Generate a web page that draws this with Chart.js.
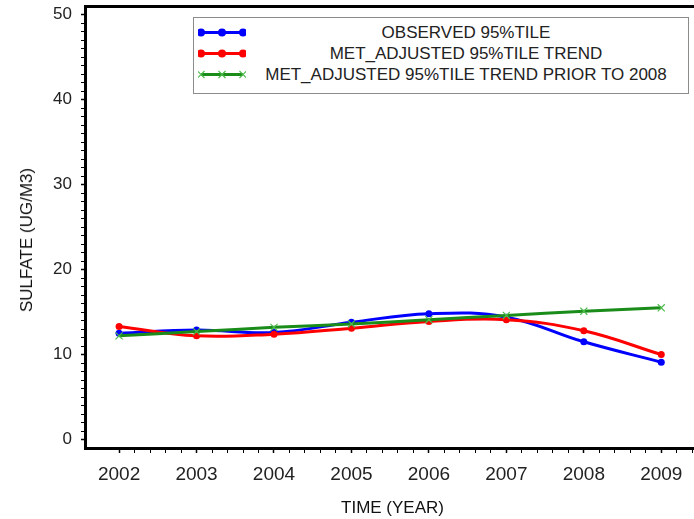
<!DOCTYPE html>
<html lang="en">
<head>
<meta charset="UTF-8">
<title>Sulfate 95%tile trend</title>
<script src="https://cdn.jsdelivr.net/npm/chart.js"></script>
<style>
    body { margin: 0; background: #fff; overflow: hidden; font-family: "Liberation Sans", Arial, sans-serif; }
    #wrap { position: relative; width: 710px; height: 519px; }
    #legend {
        position: absolute; left: 193px; top: 17px; width: 494px; height: 75px;
        border: 1px solid #8c8c8c; background: #fff;
    }
    .row { position: absolute; left: 0; width: 100%; height: 21px; }
    .row svg { position: absolute; left: 4px; top: 0; }
    .row span {
        position: absolute; left: 50px; right: 0; text-align: center;
        font-size: 17px; line-height: 21px; color: #222; white-space: nowrap;
    }
    #ytitle {
        position: absolute; left: 27px; top: 240px; width: 0; height: 0;
    }
    #ytitle span {
        position: absolute; left: 0; top: 0; white-space: nowrap;
        transform: translate(-50%, -50%) rotate(-90deg);
        font-size: 17px; line-height: 20px; color: #111;
    }
</style>
</head>
<body>
<div id="wrap">
    <canvas id="sulfateChart"></canvas>
    <div id="legend"></div>
    <div id="ytitle"><span>SULFATE (UG/M3)</span></div>
</div>

<script>
    // valores
    const years = [2002, 2003, 2004, 2005, 2006, 2007, 2008, 2009];
    const observed = [12.5, 12.9, 12.6, 13.8, 14.8, 14.4, 11.5, 9.1];
    const metAdjusted = [13.3, 12.2, 12.4, 13.1, 13.9, 14.1, 12.8, 10.0];
    const metAdjustedPrior2008 = [12.2, 12.7, 13.2, 13.6, 14.1, 14.6, 15.1, 15.5];
    const xTickLabels = ['2002', '2003', '2004', '2005', '2006', '2007', '2008', '2009'];
    const yTickLabels = ['0', '10', '20', '30', '40', '50'];
    const seriesNames = [
        'OBSERVED 95%TILE',
        'MET_ADJUSTED 95%TILE TREND',
        'MET_ADJUSTED 95%TILE TREND PRIOR TO 2008'
    ];

    const BLUE = '#0000ff';
    const RED = '#ff0000';
    const GREEN = '#1a8c1a';
    const GREEN_MARK = '#4cbb4c';
    const FONT = '"Liberation Sans", Arial, sans-serif';

    const xMin = 2001.56, xMax = 2009.5;
    const yMin = -1, yMax = 51;

    function toPoints(values) {
        return years.map((yr, i) => ({ x: yr, y: values[i] }));
    }

    // ticks menores: 5 divisões por ano no x, 1 unidade no y
    function xTicks(scale) {
        const t = [];
        for (let i = 0; i <= 37; i++) t.push({ value: Math.round((2002 + i / 5) * 10) / 10 });
        scale.ticks = t;
    }
    function yTicks(scale) {
        const t = [];
        for (let v = 0; v <= 50; v++) t.push({ value: v });
        scale.ticks = t;
    }

    // sem folga extra para rótulos nas pontas
    function noPadding(scale) {
        scale.paddingTop = 0;
        scale.paddingBottom = 0;
        scale.paddingLeft = 0;
        scale.paddingRight = 0;
    }

    // legenda em HTML
    const legend = document.getElementById('legend');
    const samples = [
        { color: BLUE, mark: 'dot' },
        { color: RED, mark: 'dot' },
        { color: GREEN, mark: 'cross' }
    ];
    seriesNames.forEach((name, i) => {
        const s = samples[i];
        let marks = '';
        [3, 24, 45].forEach(cx => {
            if (s.mark === 'dot') {
                marks += `<circle cx="${cx}" cy="10.5" r="4" fill="${s.color}"/>`;
            } else {
                marks += `<path d="M${cx - 3.5} 7 L${cx + 3.5} 14 M${cx - 3.5} 14 L${cx + 3.5} 7" stroke="${GREEN_MARK}" stroke-width="1.2"/>`;
            }
        });
        const row = document.createElement('div');
        row.className = 'row';
        row.style.top = (4 + i * 21) + 'px';
        row.innerHTML =
            `<svg width="48" height="21"><line x1="3" y1="10.5" x2="45" y2="10.5" stroke="${s.color}" stroke-width="3"/>${marks}</svg>` +
            `<span>${name}</span>`;
        legend.appendChild(row);
    });

    const ctx = document.getElementById('sulfateChart').getContext('2d');
    const sulfateChart = new Chart(ctx, {
        type: 'line',
        data: {
            datasets: [
                {
                    label: seriesNames[0],
                    data: toPoints(observed),
                    borderColor: BLUE,
                    backgroundColor: BLUE,
                    borderWidth: 3,
                    tension: 0.4,
                    pointRadius: 3.5,
                    pointBorderWidth: 0,
                    order: 3
                },
                {
                    label: seriesNames[1],
                    data: toPoints(metAdjusted),
                    borderColor: RED,
                    backgroundColor: RED,
                    borderWidth: 3,
                    tension: 0.4,
                    pointRadius: 3.5,
                    pointBorderWidth: 0,
                    order: 2
                },
                {
                    label: seriesNames[2],
                    data: toPoints(metAdjustedPrior2008),
                    borderColor: GREEN,
                    backgroundColor: GREEN_MARK,
                    borderWidth: 3,
                    tension: 0.4,
                    pointStyle: 'crossRot',
                    pointRadius: 5,
                    pointBorderColor: GREEN_MARK,
                    pointBorderWidth: 1.2,
                    order: 1
                }
            ]
        },
        options: {
            responsive: true,
            maintainAspectRatio: false,
            animation: false,
            layout: { padding: { left: 0, top: 6, right: 10, bottom: 0 } },
            plugins: {
                legend: { display: false },
                tooltip: { enabled: false }
            },
            scales: {
                x: {
                    type: 'linear',
                    position: 'bottom',
                    min: xMin,
                    max: xMax,
                    afterBuildTicks: xTicks,
                    afterFit: s => { s.height = 71; noPadding(s); },
                    ticks: {
                        autoSkip: false,
                        maxRotation: 0,
                        padding: 10,
                        color: '#222',
                        font: { family: FONT, size: 19 },
                        callback: v => {
                            const idx = years.indexOf(v);
                            return idx >= 0 ? xTickLabels[idx] : '';
                        }
                    },
                    grid: {
                        display: true,
                        drawOnChartArea: false,
                        tickLength: 5,
                        tickColor: '#000',
                        tickWidth: c => (Number.isInteger(c.tick && c.tick.value) ? 1.5 : 1)
                    },
                    border: { display: true, color: '#000', width: 3 },
                    title: {
                        display: true,
                        text: 'TIME (YEAR)',
                        color: '#111',
                        font: { family: FONT, size: 17 },
                        padding: { top: 0, bottom: 0 }
                    }
                },
                xTop: {
                    type: 'linear',
                    position: 'top',
                    min: xMin,
                    max: xMax,
                    afterFit: s => { s.height = 0; noPadding(s); },
                    ticks: { display: false },
                    grid: { display: false },
                    border: { display: true, color: '#000', width: 3 }
                },
                y: {
                    type: 'linear',
                    min: yMin,
                    max: yMax,
                    afterBuildTicks: yTicks,
                    afterFit: s => { s.width = 85; noPadding(s); },
                    ticks: {
                        autoSkip: false,
                        padding: 9,
                        color: '#222',
                        font: { family: FONT, size: 17 },
                        callback: v => {
                            const idx = yTickLabels.indexOf(String(v));
                            return idx >= 0 ? yTickLabels[idx] : '';
                        }
                    },
                    grid: {
                        display: true,
                        drawOnChartArea: false,
                        tickLength: 4,
                        tickColor: '#000',
                        tickWidth: c => (c.tick && c.tick.value % 10 === 0 ? 1.5 : 1)
                    },
                    border: { display: true, color: '#000', width: 3 }
                }
            }
        }
    });
</script>
</body>
</html>
